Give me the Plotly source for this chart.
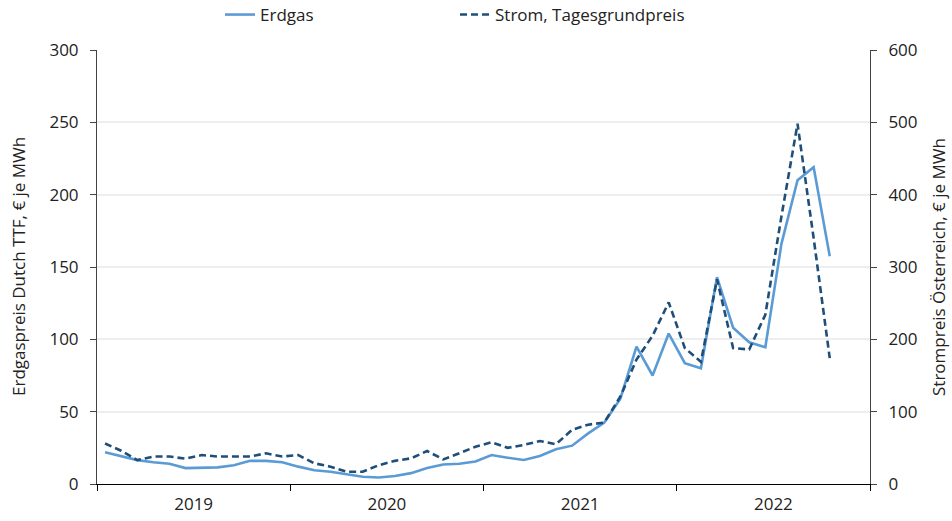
import plotly.graph_objects as go

# Monthly data Jan 2019 .. Oct 2022
months = [f"{y}-{m:02d}" for y in range(2019, 2023) for m in range(1, 13)][:46]

erdgas = [22, 19, 16.5, 15, 14, 11, 11, 11.5, 13, 16, 16, 15,
          12, 9.5, 8.5, 6.5, 5, 4.5, 5.5, 7.5, 11, 13.5, 14, 15.5,
          20, 18.2, 16.6, 19.4, 24, 26.5, 35, 42.4, 59, 95, 75, 104,
          83.5, 80, 143, 108, 98, 94.5, 166, 210, 219, 157.5]

strom = [56, 46, 33, 38, 38, 35, 40, 38, 38, 38, 42.4, 38,
         40, 28.6, 24, 17, 17, 26, 32, 35.5, 45.6, 34, 42.4, 51.6,
         57.6, 50, 54, 59.5, 55, 75, 82, 85, 121, 172, 205, 251,
         188, 169, 283, 188, 186, 234, 370, 498, 340, 174]

years = ["2019", "2020", "2021", "2022"]

x_pos = [i + 0.5 for i in range(len(months))]
year_centers = [12 * k + 6 for k in range(len(years))]

FONT = "Open Sans"
FS = 17
W, H = 952, 521
ML, MT, MR, MB = 97, 50, 82, 37
PW = W - ML - MR
PH = H - MT - MB

fig = go.Figure()
fig.add_trace(go.Scatter(x=x_pos, y=erdgas, name="Erdgas", mode="lines",
                         line=dict(color="#5B9BD5", width=2.6), customdata=months))
fig.add_trace(go.Scatter(x=x_pos, y=strom, name="Strom, Tagesgrundpreis", mode="lines",
                         yaxis="y2", line=dict(color="#1F4E79", width=2.6, dash="7px,4px"),
                         customdata=months))

fig.update_layout(
    width=W, height=H,
    margin=dict(l=ML, r=MR, t=MT, b=MB, autoexpand=False),
    plot_bgcolor="white", paper_bgcolor="white",
    font=dict(family=FONT, size=FS, color="#222222"),
    legend=dict(orientation="h", x=(455 - ML) / PW, xanchor="center",
                y=1 + (MT - 15) / PH, yanchor="middle",
                font=dict(size=FS), bgcolor="rgba(0,0,0,0)", entrywidth=190),
    xaxis=dict(range=[0, 48], tickvals=year_centers, ticktext=years, ticks="",
               showgrid=False, zeroline=False, showline=True, linecolor="#000000", linewidth=1.2,
               minor=dict(tick0=0, dtick=12, ticks="outside", ticklen=6, tickcolor="#000000",
                          showgrid=False),
               tickfont=dict(size=FS), automargin=False, ticklabelstandoff=4),
    yaxis=dict(range=[0, 300], dtick=50, ticks="outside", ticklen=6, tickcolor="#444444",
               showline=True, linecolor="#444444", linewidth=1, gridcolor="#EEEEEE", gridwidth=1.5,
               zeroline=False, automargin=False, ticklabelstandoff=8),
    yaxis2=dict(range=[0, 600], dtick=100, overlaying="y", side="right", ticks="outside",
                ticklen=6, tickcolor="#444444", showline=True, linecolor="#444444", linewidth=1,
                showgrid=False, zeroline=False, automargin=False, ticklabelstandoff=8),
    annotations=[
        dict(text="Erdgaspreis Dutch TTF, € je MWh", xref="paper", yref="paper",
             x=(18 - ML) / PW, y=0.5, textangle=-90, showarrow=False,
             xanchor="center", yanchor="middle", font=dict(size=FS)),
        dict(text="Strompreis Österreich, € je MWh", xref="paper", yref="paper",
             x=(938 - ML) / PW, y=0.5, textangle=-90, showarrow=False,
             xanchor="center", yanchor="middle", font=dict(size=FS)),
    ],
)

fig.write_html("out.html", config={"displayModeBar": False},
               post_script="document.body.style.margin='0';document.body.style.overflow='hidden';")
